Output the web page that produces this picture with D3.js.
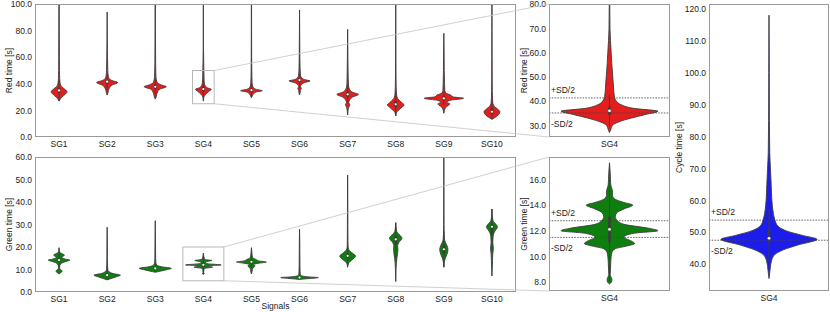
<!DOCTYPE html>
<html>
<head>
<meta charset="utf-8">
<script src="https://cdn.jsdelivr.net/npm/d3@7"></script>
<style>
  body { margin: 0; background: #fff; }
  text { font-family: "Liberation Sans", Arial, sans-serif; font-size: 8.5px; fill: #222; }
</style>
</head>
<body>
<div class="chart"></div>
<script>
// Step 1: data
//= ================================
var signals = ["SG1", "SG2", "SG3", "SG4", "SG5", "SG6", "SG7", "SG8", "SG9", "SG10"];

// violin profiles: [value, relative half width]
var redShapes = [
  [[27,0],[28,0.1],[30,0.35],[32,0.75],[34,1],[36,0.7],[38,0.3],[40,0.14],[44,0.08],[50,0.05],[60,0.04],[80,0.03],[110,0.02]],
  [[31.5,0],[33,0.07],[35,0.12],[37,0.22],[39,0.45],[41,1],[42.5,0.45],[44,0.18],[46,0.1],[50,0.06],[60,0.035],[70,0.02],[94,0]],
  [[28.5,0],[30,0.08],[32,0.13],[34,0.22],[36,0.43],[37.8,1],[39.5,0.43],[41,0.18],[43,0.1],[46,0.06],[55,0.035],[80,0.02],[110,0.01]],
  [[27,0],[28.5,0.03],[30,0.06],[31.5,0.2],[33,0.45],[34.5,0.75],[35.8,1],[37,0.5],[38.5,0.24],[40,0.14],[42,0.1],[45,0.085],[48,0.075],[52,0.06],[56,0.045],[60,0.035],[65,0.02],[70,0.01],[80,0.005],[110,0.003]],
  [[29.5,0],[31,0.08],[32.5,0.2],[34,0.5],[34.8,1],[35.8,0.45],[37,0.2],[38.5,0.1],[41,0.06],[45,0.04],[52,0.03],[60,0.02],[80,0.012],[110,0.008]],
  [[31.6,0],[33,0.05],[35,0.08],[36.5,0.16],[38,0.08],[39.5,0.2],[41,0.5],[42.1,1],[43.2,0.45],[44.5,0.2],[46,0.1],[48,0.07],[52,0.05],[60,0.03],[70,0.02],[80,0.012],[95.5,0]],
  [[16.5,0],[19,0.03],[22,0.08],[24.5,0.2],[26,0.1],[28,0.2],[30,0.45],[32.1,1],[33.5,0.5],[35,0.25],[37,0.12],[40,0.07],[45,0.05],[50,0.04],[60,0.025],[70,0.015],[81,0]],
  [[15.8,0],[17.5,0.05],[19,0.15],[20.5,0.4],[22.5,0.75],[24.1,1],[26,0.7],[28,0.35],[30,0.15],[33,0.08],[38,0.05],[45,0.035],[55,0.025],[70,0.015],[90,0.01],[110,0.006]],
  [[17.8,0],[20,0.03],[22,0.08],[24,0.25],[25,0.3],[26,0.15],[27.5,0.3],[29.1,1],[30.2,0.45],[31.5,0.35],[33,0.1],[35,0.05],[40,0.035],[50,0.02],[60,0.015],[78,0]],
  [[13.3,0],[14.2,0.25],[15.5,0.6],[17,0.85],[19,1],[21,0.7],[22.5,0.4],[24,0.18],[26,0.1],[30,0.06],[35,0.04],[45,0.03],[60,0.02],[80,0.012],[110,0.008]]
];
var redPeak = [0.33, 0.44, 0.46, 0.33, 0.45, 0.44, 0.45, 0.35, 0.82, 0.33];
var redMedian = [35, 41.6, 37.8, 36, 35.2, 42.8, 32.1, 24.6, 29.1, 19];
var redQ1 = [33, 40, 36.5, 34.4, 33.8, 41, 30.5, 22.5, 28, 17.5];
var redQ3 = [37, 43, 39.5, 37.7, 36.5, 44, 34, 27, 30.5, 21.5];

var greenShapes = [
  [[8,0],[8.6,0.15],[9.3,0.3],[10,0.12],[10.8,0.05],[11.6,0.06],[12.4,0.15],[13.2,0.4],[13.8,0.8],[14.2,1],[14.6,0.6],[15.2,0.25],[15.8,0.35],[16.4,0.5],[17,0.3],[17.6,0.08],[18.5,0.04],[19.7,0]],
  [[5.4,0],[6,0.3],[6.8,0.7],[7.5,1],[8.2,0.45],[9,0.15],[10,0.05],[12,0.03],[15,0.02],[20,0.015],[25,0.01],[28.8,0]],
  [[8.8,0],[9.3,0.35],[10,0.75],[10.5,1],[11.2,0.4],[12,0.1],[13,0.04],[15,0.025],[20,0.018],[25,0.012],[31.7,0]],
  [[7.85,0],[8,0.04],[8.2,0.05],[8.4,0.03],[8.6,0.015],[9,0.02],[9.5,0.025],[10,0.035],[10.3,0.05],[10.6,0.12],[10.8,0.35],[11,0.52],[11.2,0.45],[11.5,0.3],[11.8,0.5],[12,1],[12.2,0.8],[12.5,0.3],[12.8,0.16],[13.1,0.12],[13.4,0.15],[13.7,0.3],[14,0.48],[14.2,0.3],[14.5,0.1],[14.8,0.06],[15.1,0.06],[15.5,0.03],[16,0.02],[16.5,0.015],[17.3,0]],
  [[8,0],[9,0.04],[10,0.06],[11,0.15],[11.6,0.25],[12.2,0.12],[12.8,0.5],[13.3,1],[13.8,0.5],[14.5,0.3],[15,0.12],[16,0.05],[17.5,0.03],[19.7,0]],
  [[5.6,0],[5.9,0.4],[6.2,0.85],[6.4,1],[6.7,0.5],[7.1,0.15],[7.6,0.05],[9,0.03],[12,0.02],[18,0.015],[24,0.01],[27.9,0]],
  [[11,0],[12,0.05],[13,0.15],[14,0.45],[15,0.8],[16,1],[17,0.7],[18,0.35],[19,0.12],[20,0.06],[23,0.04],[30,0.03],[40,0.02],[52,0]],
  [[4.6,0],[7,0.03],[10,0.05],[13,0.1],[15,0.18],[17,0.28],[19,0.35],[20.5,0.3],[22,0.5],[23.9,1],[25,0.75],[26.2,0.3],[27.5,0.1],[29,0.05],[30.8,0]],
  [[11,0],[13,0.1],[15,0.35],[16.5,0.7],[18,0.95],[19,1],[20.5,0.8],[22,0.4],[23.5,0.15],[26,0.08],[30,0.05],[40,0.03],[50,0.02],[60,0.015],[70,0.01]],
  [[7.1,0],[10,0.05],[14,0.1],[17,0.15],[19.5,0.25],[22,0.15],[24.5,0.2],[26.5,0.4],[28,0.8],[29,1],[30,0.75],[31.2,0.3],[32.5,0.12],[34.5,0.05],[36.9,0]]
];
var greenPeak = [0.45, 0.55, 0.67, 0.74, 0.62, 0.78, 0.33, 0.26, 0.17, 0.23];
var greenMedian = [14.2, 7.5, 10.5, 12.1, 13.4, 6.4, 16.1, 23.4, 19, 29];
var greenQ1 = [13.2, 6.8, 9.8, 11.1, 12.6, 6.1, 15, 21, 17, 25.5];
var greenQ3 = [15, 8.2, 11, 13.1, 14, 6.8, 17, 25, 21, 30];

var cycleShape = [[35.5,0],[38,0.02],[41,0.05],[43,0.12],[44.5,0.3],[46,0.6],[47.8,1],[49,0.7],[50.5,0.35],[52,0.18],[54,0.12],[57,0.08],[60,0.06],[65,0.045],[70,0.03],[75,0.015],[85,0.008],[100,0.005],[118,0]];
var cycleStats = { median: 48.1, q1: 46.8, q3: 51 };

// +SD/2 and -SD/2 reference lines
var redSD = [41.3, 35.1];
var greenSD = [12.78, 11.48];
var cycleSD = [53.8, 47.5];

var redTicks = [0, 20, 40, 60, 80, 100];
var greenTicks = [0, 10, 20, 30, 40, 50, 60];
var redZoomTicks = [30, 40, 50, 60, 70, 80];
var greenZoomTicks = [8, 10, 12, 14, 16];
var cycleTicks = [40, 50, 60, 70, 80, 90, 100, 110, 120];

var zoomSignal = "SG4";
var redZoomRange = [25, 50];
var greenZoomRange = [5, 20];

var redFill = "#e41d1d";
var greenFill = "#0e7f0e";
var blueFill = "#1c1ced";
var gray = "#3c3c3c";

// Step 2: svg and scales
//= ================================
var svgWidth = 830;
var svgHeight = 312;

var svg = d3.select(".chart")
  .append("svg")
  .attr("width", svgWidth)
  .attr("height", svgHeight);

var xLeft = d3.scaleBand().domain(signals).range([35, 516]);
var yRed = d3.scaleLinear().domain([0, 100]).range([137, 4]);
var yGreen = d3.scaleLinear().domain([0, 60]).range([292, 157]);

var xMid = d3.scaleBand().domain([zoomSignal]).range([549, 670]);
var yRedZoom = d3.scaleLinear().domain([25.2, 80]).range([137, 4]);
var yGreenZoom = d3.scaleLinear().domain([7.3, 17.75]).range([291, 157]);

var xRight = d3.scaleBand().domain([zoomSignal]).range([709, 829]);
var yCycle = d3.scaleLinear().domain([31.6, 121.5]).range([291, 4]);

var clipCount = 0;

// Step 3: helpers
//= ================================
function panel(x, y, yTicks, labelX, labelText) {
  var x0 = x.range()[0], x1 = x.range()[1];
  var y0 = y.range()[1], y1 = y.range()[0];
  var id = "clip" + (clipCount++);
  svg.append("clipPath").attr("id", id)
    .append("rect").attr("x", x0).attr("y", y0).attr("width", x1 - x0).attr("height", y1 - y0);

  svg.append("g")
    .attr("transform", `translate(${x0}, 0)`)
    .call(d3.axisLeft(y).tickValues(yTicks).tickFormat(d3.format(".1f")).tickSize(0).tickPadding(3))
    .call(g => g.select(".domain").remove())
    .selectAll("text").style("font-size", "8.5px").attr("fill", "#222");

  svg.append("g")
    .attr("transform", `translate(0, ${y1})`)
    .call(d3.axisBottom(x).tickSize(0).tickPadding(3.5))
    .call(g => g.select(".domain").remove())
    .selectAll("text").style("font-size", "8.5px").attr("fill", "#222");

  svg.append("text")
    .attr("transform", `translate(${labelX}, ${(y0 + y1) / 2}) rotate(-90)`)
    .attr("text-anchor", "middle")
    .attr("dy", "0.35em")
    .text(labelText);

  var g = svg.append("g").attr("clip-path", `url(#${id})`);
  return g;
}

function frame(x, y) {
  var x0 = x.range()[0], x1 = x.range()[1];
  var y0 = y.range()[1], y1 = y.range()[0];
  svg.append("rect")
    .attr("x", x0 + 0.5).attr("y", y0 + 0.5)
    .attr("width", x1 - x0 - 1).attr("height", y1 - y0 - 1)
    .attr("fill", "none").attr("stroke", "#9a9a9a").attr("stroke-width", 1);
}

function violin(g, shape, cx, halfMax, y, fill, q1, med, q3, dot) {
  var pts = shape.slice().sort((a, b) => b[0] - a[0]);
  var area = d3.area()
    .y(d => y(d[0]))
    .x0(d => cx - d[1] * halfMax)
    .x1(d => cx + d[1] * halfMax)
    .curve(d3.curveMonotoneY);

  g.append("path")
    .attr("d", area(pts))
    .attr("fill", fill)
    .attr("stroke", gray)
    .attr("stroke-width", 0.9)
    .attr("stroke-linejoin", "round");

  var lo = d3.min(shape, d => d[0]), hi = d3.max(shape, d => d[0]);
  var iqr = q3 - q1;
  var wLo = Math.max(lo, q1 - 1.5 * iqr), wHi = Math.min(hi, q3 + 1.5 * iqr);

  g.append("line")
    .attr("x1", cx).attr("x2", cx)
    .attr("y1", y(wLo)).attr("y2", y(wHi))
    .attr("stroke", gray).attr("stroke-width", 0.9);
  g.append("line")
    .attr("x1", cx).attr("x2", cx)
    .attr("y1", y(q1)).attr("y2", y(q3))
    .attr("stroke", gray).attr("stroke-width", 2.6);
  g.append("circle")
    .attr("cx", cx).attr("cy", y(med)).attr("r", dot)
    .attr("fill", "white");
}

function sdLines(g, x, y, sd) {
  var x0 = x.range()[0], x1 = x.range()[1];
  sd.forEach(function (v, i) {
    g.append("line")
      .attr("x1", x0).attr("x2", x1)
      .attr("y1", y(v)).attr("y2", y(v))
      .attr("stroke", "#444").attr("stroke-width", 0.8)
      .attr("stroke-dasharray", "1.6,1.2");
    svg.append("text")
      .attr("x", x0 + 2)
      .attr("y", i === 0 ? y(v) - 5 : y(v) + 14)
      .text(i === 0 ? "+SD/2" : "-SD/2");
  });
}

// Step 4: red time grid
//= ================================
var gRed = panel(xLeft, yRed, redTicks, 9, "Red time [s]");
signals.forEach(function (s, i) {
  var cx = xLeft(s) + xLeft.bandwidth() / 2;
  violin(gRed, redShapes[i], cx, redPeak[i] * xLeft.bandwidth() / 2, yRed, redFill,
    redQ1[i], redMedian[i], redQ3[i], 1.1);
});
frame(xLeft, yRed);

// Step 5: green time grid
//= ================================
var gGreen = panel(xLeft, yGreen, greenTicks, 9, "Green time [s]");
signals.forEach(function (s, i) {
  var cx = xLeft(s) + xLeft.bandwidth() / 2;
  violin(gGreen, greenShapes[i], cx, greenPeak[i] * xLeft.bandwidth() / 2, yGreen, greenFill,
    greenQ1[i], greenMedian[i], greenQ3[i], 1.1);
});
frame(xLeft, yGreen);

svg.append("text")
  .attr("x", 275.5).attr("y", 309)
  .attr("text-anchor", "middle")
  .text("Signals");

// Step 6: zoomed SG4 panels
//= ================================
var si = signals.indexOf(zoomSignal);
var gRedZ = panel(xMid, yRedZoom, redZoomTicks, 524.5, "Red time [s]");
violin(gRedZ, redShapes[si], xMid(zoomSignal) + xMid.bandwidth() / 2, 0.4 * xMid.bandwidth(), yRedZoom,
  redFill, redQ1[si], redMedian[si], redQ3[si], 1.4);
sdLines(gRedZ, xMid, yRedZoom, redSD);
frame(xMid, yRedZoom);

var gGreenZ = panel(xMid, yGreenZoom, greenZoomTicks, 524.5, "Green time [s]");
violin(gGreenZ, greenShapes[si], xMid(zoomSignal) + xMid.bandwidth() / 2, 0.4 * xMid.bandwidth(), yGreenZoom,
  greenFill, greenQ1[si], greenMedian[si], greenQ3[si], 1.4);
sdLines(gGreenZ, xMid, yGreenZoom, greenSD);
frame(xMid, yGreenZoom);

// Step 7: cycle time
//= ================================
var gCycle = panel(xRight, yCycle, cycleTicks, 679, "Cycle time [s]");
violin(gCycle, cycleShape, xRight(zoomSignal) + xRight.bandwidth() / 2, 0.4 * xRight.bandwidth(), yCycle,
  blueFill, cycleStats.q1, cycleStats.median, cycleStats.q3, 1.4);
sdLines(gCycle, xRight, yCycle, cycleSD);
frame(xRight, yCycle);

// Step 8: zoom boxes and connectors
//= ================================
function zoomBox(yScale, range, halfFrac, yTarget) {
  var cx = xLeft(zoomSignal) + xLeft.bandwidth() / 2;
  var hw = halfFrac * xLeft.bandwidth();
  var top = yScale(range[1]), bot = yScale(range[0]);
  svg.append("rect")
    .attr("x", cx - hw).attr("y", top)
    .attr("width", 2 * hw).attr("height", bot - top)
    .attr("fill", "none").attr("stroke", "#b8b8b8").attr("stroke-width", 1);
  var tx = xMid.range()[0];
  [[top, yTarget.range()[1]], [bot, yTarget.range()[0]]].forEach(function (p) {
    svg.append("line")
      .attr("x1", cx + hw).attr("y1", p[0])
      .attr("x2", tx).attr("y2", p[1])
      .attr("stroke", "#c4c4c4").attr("stroke-width", 0.8);
  });
}
zoomBox(yRed, redZoomRange, 0.225, yRedZoom);
zoomBox(yGreen, greenZoomRange, 0.426, yGreenZoom);
</script>
</body>
</html>
